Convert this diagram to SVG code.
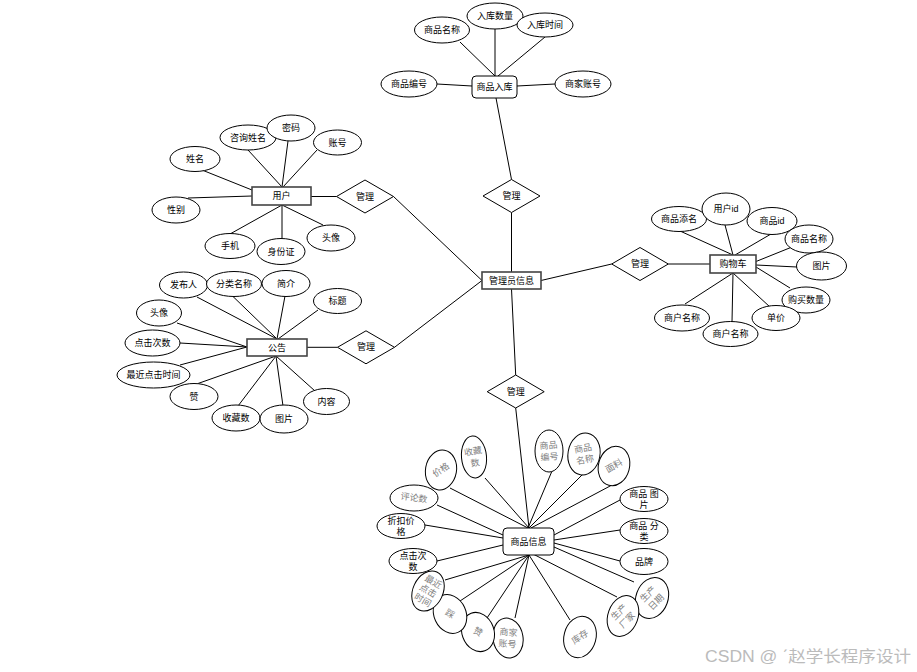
<svg xmlns="http://www.w3.org/2000/svg" width="917" height="672" viewBox="0 0 917 672">
<style>
.e{fill:#fff;stroke:#000;stroke-width:1}
.r{fill:#fff;stroke:#444;stroke-width:1.6}
.rr{fill:#fff;stroke:#000;stroke-width:1}
.d{fill:#fff;stroke:#000;stroke-width:1}
.t{font-family:"Liberation Sans","Noto Sans CJK SC",sans-serif;font-size:9px;fill:#000;text-anchor:middle;dominant-baseline:central}
.g{font-family:"Liberation Serif","Noto Sans CJK SC",serif;font-size:9px;fill:#808080;text-anchor:middle;dominant-baseline:central}
#conn line{stroke:#000;stroke-width:1}
.wm{font-family:"Liberation Sans","Noto Sans CJK SC",sans-serif;font-size:16px;fill:#bbb}
</style>
<rect width="917" height="672" fill="#fff"/>
<g id="conn">
<line x1="460" y1="42" x2="495" y2="76"/>
<line x1="495" y1="29" x2="495" y2="76"/>
<line x1="545" y1="37" x2="498" y2="76"/>
<line x1="437" y1="84" x2="472" y2="86"/>
<line x1="517" y1="86" x2="555" y2="84"/>
<line x1="496" y1="98" x2="511.5" y2="179.5"/>
<line x1="511.5" y1="212.5" x2="511.5" y2="272"/>
<line x1="511.5" y1="289" x2="515.7" y2="375"/>
<line x1="515.7" y1="408" x2="529" y2="528"/>
<line x1="541" y1="280.5" x2="611.7" y2="264"/>
<line x1="668.3" y1="264" x2="710" y2="264"/>
<line x1="311" y1="196.5" x2="336.5" y2="196.5"/>
<line x1="393.5" y1="196.5" x2="482" y2="280.5"/>
<line x1="307" y1="347.3" x2="337.5" y2="347.3"/>
<line x1="394.5" y1="347.3" x2="482" y2="280.5"/>
<line x1="248" y1="150" x2="282" y2="187"/>
<line x1="288" y1="141" x2="282" y2="187"/>
<line x1="317" y1="150" x2="283" y2="187"/>
<line x1="202" y1="170" x2="252" y2="190"/>
<line x1="188" y1="198" x2="252" y2="196"/>
<line x1="230" y1="234" x2="282" y2="205"/>
<line x1="282" y1="238.5" x2="282" y2="205"/>
<line x1="323" y1="225" x2="282" y2="205"/>
<line x1="197" y1="297" x2="277" y2="339"/>
<line x1="233" y1="296.5" x2="277" y2="339"/>
<line x1="285" y1="296" x2="277" y2="339"/>
<line x1="318" y1="310" x2="278" y2="339"/>
<line x1="177" y1="323" x2="247" y2="347"/>
<line x1="180" y1="343" x2="247" y2="347"/>
<line x1="180" y1="365" x2="247" y2="347"/>
<line x1="198" y1="383.5" x2="276" y2="356"/>
<line x1="238" y1="406" x2="276" y2="356"/>
<line x1="283" y1="406" x2="276" y2="356"/>
<line x1="315" y1="391" x2="276" y2="356"/>
<line x1="680" y1="231" x2="733" y2="255"/>
<line x1="725" y1="225" x2="733" y2="255"/>
<line x1="771" y1="234" x2="735" y2="255"/>
<line x1="792" y1="247" x2="756" y2="261.5"/>
<line x1="797" y1="267" x2="756" y2="265"/>
<line x1="790" y1="288" x2="756" y2="267"/>
<line x1="770" y1="307" x2="733" y2="273"/>
<line x1="685" y1="304" x2="733" y2="273"/>
<line x1="732" y1="322" x2="733" y2="273"/>
<line x1="450" y1="488" x2="528" y2="528"/>
<line x1="485" y1="478" x2="529" y2="528"/>
<line x1="552" y1="471" x2="528" y2="528"/>
<line x1="583" y1="474" x2="529" y2="528"/>
<line x1="612" y1="485" x2="531" y2="528"/>
<line x1="620" y1="500" x2="554" y2="535"/>
<line x1="620" y1="530" x2="554" y2="540"/>
<line x1="620" y1="561" x2="554" y2="543"/>
<line x1="634" y1="582" x2="554" y2="547"/>
<line x1="617" y1="597" x2="533" y2="554"/>
<line x1="570" y1="620" x2="529" y2="555"/>
<line x1="515" y1="618" x2="529" y2="555"/>
<line x1="485" y1="621" x2="529" y2="555"/>
<line x1="460" y1="601" x2="529" y2="555"/>
<line x1="445" y1="580" x2="529" y2="555"/>
<line x1="437" y1="561" x2="503" y2="545"/>
<line x1="425" y1="525" x2="503" y2="538"/>
<line x1="437" y1="505" x2="503" y2="535"/>
</g>

<g id="ruku"><rect class="rr" x="472" y="76" width="45" height="22" rx="4"/><text class="t" x="494.5" y="87">商品入库</text></g>
<g id="ruku-name"><ellipse class="e" cx="442" cy="30" rx="27.5" ry="13"/><text class="t" x="442" y="30">商品名称</text></g>
<g id="ruku-qty"><ellipse class="e" cx="495" cy="16" rx="28" ry="13"/><text class="t" x="495" y="16">入库数量</text></g>
<g id="ruku-time"><ellipse class="e" cx="545" cy="25" rx="28" ry="12"/><text class="t" x="545" y="25">入库时间</text></g>
<g id="ruku-no"><ellipse class="e" cx="409" cy="84" rx="28" ry="13"/><text class="t" x="409" y="84">商品编号</text></g>
<g id="ruku-acc"><ellipse class="e" cx="583" cy="84" rx="28" ry="13"/><text class="t" x="583" y="84">商家账号</text></g>

<g id="d-top"><polygon class="d" points="511.5,179.5 540,196 511.5,212.5 483,196"/><text class="t" x="511.5" y="196">管理</text></g>
<g id="d-bottom"><polygon class="d" points="515.7,375 544.2,391.7 515.7,408 487.2,391.7"/><text class="t" x="515.7" y="391.7">管理</text></g>
<g id="d-cart"><polygon class="d" points="611.7,264 640,247.5 668.3,264 640,280.5"/><text class="t" x="640" y="264">管理</text></g>
<g id="d-user"><polygon class="d" points="336.5,196.5 365,180 393.5,196.5 365,213"/><text class="t" x="365" y="196.5">管理</text></g>
<g id="d-notice"><polygon class="d" points="337.5,347.3 366,330.8 394.5,347.3 366,363.8"/><text class="t" x="366" y="347.3">管理</text></g>

<g id="admin"><rect class="r" x="482" y="272" width="59" height="17"/><text class="t" x="511.5" y="280.5">管理员信息</text></g>

<g id="user"><rect class="r" x="252" y="187" width="59" height="18"/><text class="t" x="281.5" y="196">用户</text></g>
<g id="u-consult"><ellipse class="e" cx="248" cy="137.5" rx="28" ry="12.5"/><text class="t" x="248" y="137.5">咨询姓名</text></g>
<g id="u-pwd"><ellipse class="e" cx="291" cy="128" rx="24" ry="13"/><text class="t" x="291" y="128">密码</text></g>
<g id="u-acc"><ellipse class="e" cx="337.5" cy="142.5" rx="24" ry="12.5"/><text class="t" x="337.5" y="142.5">账号</text></g>
<g id="u-name"><ellipse class="e" cx="195" cy="159" rx="25" ry="12.5"/><text class="t" x="195" y="159">姓名</text></g>
<g id="u-sex"><ellipse class="e" cx="176" cy="210" rx="24" ry="13"/><text class="t" x="176" y="210">性别</text></g>
<g id="u-phone"><ellipse class="e" cx="230" cy="246" rx="25" ry="12.5"/><text class="t" x="230" y="246">手机</text></g>
<g id="u-id"><ellipse class="e" cx="281" cy="251.5" rx="24" ry="13"/><text class="t" x="281" y="251.5">身份证</text></g>
<g id="u-avatar"><ellipse class="e" cx="331" cy="238" rx="24" ry="13"/><text class="t" x="331" y="238">头像</text></g>

<g id="notice"><rect class="r" x="247" y="339" width="60" height="17"/><text class="t" x="277" y="347.5">公告</text></g>
<g id="n-pub"><ellipse class="e" cx="183.5" cy="285" rx="24" ry="13"/><text class="t" x="183.5" y="285">发布人</text></g>
<g id="n-cat"><ellipse class="e" cx="234" cy="284" rx="27.5" ry="12.5"/><text class="t" x="234" y="284">分类名称</text></g>
<g id="n-intro"><ellipse class="e" cx="286" cy="283.5" rx="24" ry="13"/><text class="t" x="286" y="283.5">简介</text></g>
<g id="n-title"><ellipse class="e" cx="337.5" cy="301" rx="24" ry="12.5"/><text class="t" x="337.5" y="301">标题</text></g>
<g id="n-avatar"><ellipse class="e" cx="159" cy="313" rx="22.5" ry="13"/><text class="t" x="159" y="313">头像</text></g>
<g id="n-clicks"><ellipse class="e" cx="152.5" cy="343" rx="27.5" ry="13"/><text class="t" x="152.5" y="343">点击次数</text></g>
<g id="n-recent"><ellipse class="e" cx="153.5" cy="375" rx="36.5" ry="13"/><text class="t" x="153.5" y="375">最近点击时间</text></g>
<g id="n-like"><ellipse class="e" cx="194" cy="396.5" rx="24" ry="13"/><text class="t" x="194" y="396.5">赞</text></g>
<g id="n-fav"><ellipse class="e" cx="236" cy="418" rx="24" ry="13"/><text class="t" x="236" y="418">收藏数</text></g>
<g id="n-pic"><ellipse class="e" cx="284" cy="419" rx="24" ry="14"/><text class="t" x="284" y="419">图片</text></g>
<g id="n-content"><ellipse class="e" cx="326.5" cy="401.5" rx="23" ry="13"/><text class="t" x="326.5" y="401.5">内容</text></g>

<g id="cart"><rect class="r" x="710" y="255" width="46" height="18"/><text class="t" x="733" y="264">购物车</text></g>
<g id="c-spec"><ellipse class="e" cx="679" cy="219" rx="27.5" ry="12.5"/><text class="t" x="679" y="219">商品添名</text></g>
<g id="c-uid"><ellipse class="e" cx="726" cy="209" rx="24" ry="16"/><text class="t" x="726" y="209">用户id</text></g>
<g id="c-gid"><ellipse class="e" cx="772" cy="221" rx="25" ry="13.5"/><text class="t" x="772" y="221">商品id</text></g>
<g id="c-gname"><ellipse class="e" cx="809" cy="239" rx="24" ry="14"/><text class="t" x="809" y="239">商品名称</text></g>
<g id="c-pic"><ellipse class="e" cx="821.5" cy="266" rx="25" ry="14"/><text class="t" x="821.5" y="266">图片</text></g>
<g id="c-qty"><ellipse class="e" cx="806" cy="300" rx="24" ry="13"/><text class="t" x="806" y="300">购买数量</text></g>
<g id="c-price"><ellipse class="e" cx="776" cy="318" rx="24" ry="12.5"/><text class="t" x="776" y="318">单价</text></g>
<g id="c-mname1"><ellipse class="e" cx="682" cy="318" rx="27.5" ry="13"/><text class="t" x="682" y="318">商户名称</text></g>
<g id="c-mname2"><ellipse class="e" cx="730.5" cy="334" rx="27.5" ry="12.5"/><text class="t" x="730.5" y="334">商户名称</text></g>

<g id="goods"><rect class="rr" x="503" y="528" width="51" height="27" rx="4"/><text class="t" x="528.5" y="541.5">商品信息</text></g>
<g id="g-price" transform="translate(441,470)"><ellipse class="e" rx="15.5" ry="20" transform="rotate(10)"/><text class="g" transform="rotate(-35)">价格</text></g>
<g id="g-fav" transform="translate(474,457)"><ellipse class="e" rx="12.5" ry="21" transform="rotate(-5)"/><text class="g" transform="rotate(-10)"><tspan x="0" y="-5.5">收藏</tspan><tspan x="0" y="6">数</tspan></text></g>
<g id="g-no" transform="translate(549,451)"><ellipse class="e" rx="14" ry="21"/><text class="g" transform="rotate(-5)"><tspan x="0" y="-5.5">商品</tspan><tspan x="0" y="6">编号</tspan></text></g>
<g id="g-name" transform="translate(584,454)"><ellipse class="e" rx="16" ry="21" transform="rotate(10)"/><text class="g" transform="rotate(-10)"><tspan x="0" y="-5.5">商品</tspan><tspan x="0" y="6">名称</tspan></text></g>
<g id="g-fabric" transform="translate(614,466)"><ellipse class="e" rx="15.5" ry="20" transform="rotate(15)"/><text class="g" transform="rotate(-30)">面料</text></g>
<g id="g-pic"><ellipse class="e" cx="644" cy="499" rx="24" ry="12.5"/><text class="t"><tspan x="644" y="494">商品 图</tspan><tspan x="644" y="505">片</tspan></text></g>
<g id="g-cat"><ellipse class="e" cx="644" cy="531" rx="24" ry="12.5"/><text class="t"><tspan x="644" y="526">商品 分</tspan><tspan x="644" y="537">类</tspan></text></g>
<g id="g-brand"><ellipse class="e" cx="644" cy="561.5" rx="24" ry="13"/><text class="t" x="644" y="561.5">品牌</text></g>
<g id="g-date" transform="translate(652,598)"><ellipse class="e" rx="16" ry="21" transform="rotate(20)"/><text class="g" transform="rotate(-45)"><tspan x="0" y="-5.5">生产</tspan><tspan x="0" y="6">日期</tspan></text></g>
<g id="g-maker" transform="translate(623,616)"><ellipse class="e" rx="15" ry="21" transform="rotate(20)"/><text class="g" transform="rotate(-45)"><tspan x="0" y="-5.5">生产</tspan><tspan x="0" y="6">厂家</tspan></text></g>
<g id="g-stock" transform="translate(580,637)"><ellipse class="e" rx="16" ry="21" transform="rotate(15)"/><text class="g" transform="rotate(-35)">库存</text></g>
<g id="g-acc" transform="translate(508,638)"><ellipse class="e" rx="15" ry="20" transform="rotate(-10)"/><text class="g" transform="rotate(5)"><tspan x="0" y="-5.5">商家</tspan><tspan x="0" y="6">账号</tspan></text></g>
<g id="g-like" transform="translate(478,632)"><ellipse class="e" rx="16" ry="20" transform="rotate(-20)"/><text class="g" transform="rotate(30)">赞</text></g>
<g id="g-dislike" transform="translate(450,614)"><ellipse class="e" rx="16" ry="20" transform="rotate(-25)"/><text class="g" transform="rotate(30)">踩</text></g>
<g id="g-recent" transform="translate(428,591)"><ellipse class="e" rx="15" ry="21" transform="rotate(25)"/><text class="g" transform="rotate(30)"><tspan x="0" y="-10.5">最近</tspan><tspan x="0" y="0">点击</tspan><tspan x="0" y="10.5">时间</tspan></text></g>
<g id="g-clicks"><ellipse class="e" cx="413" cy="561" rx="24" ry="12.5"/><text class="t"><tspan x="413" y="556">点击次</tspan><tspan x="413" y="567">数</tspan></text></g>
<g id="g-discount"><ellipse class="e" cx="401" cy="526" rx="24" ry="12.5"/><text class="t"><tspan x="401" y="521">折扣价</tspan><tspan x="401" y="532">格</tspan></text></g>
<g id="g-comments" transform="translate(414,498)"><ellipse class="e" rx="24" ry="13"/><text class="g" transform="rotate(8)">评论数</text></g>

<text class="wm" x="705" y="662" textLength="206" lengthAdjust="spacingAndGlyphs">CSDN @ ˊ赵学长程序设计</text>
</svg>
